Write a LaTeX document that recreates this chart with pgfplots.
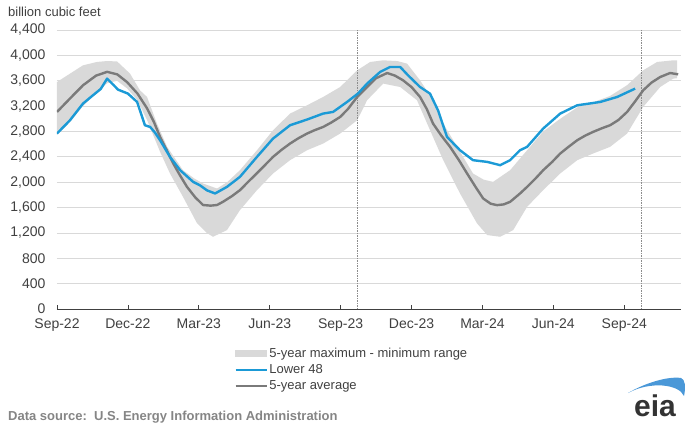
\documentclass[border=0pt]{standalone}
\usepackage{fontspec}
\setmainfont{Liberation Sans}
\usepackage{pgfplots}
\pgfplotsset{compat=1.18}
\definecolor{bandgray}{HTML}{D9D9D9}
\definecolor{eiablue}{HTML}{1B9AD6}
\definecolor{avggray}{HTML}{7A7A7A}
\definecolor{gridgray}{HTML}{D9D9D9}
\definecolor{txt}{HTML}{404040}
\definecolor{srcgray}{HTML}{858585}
\definecolor{logogray}{HTML}{333333}
\definecolor{logoblue}{HTML}{4A98D8}

\begin{document}
\begin{tikzpicture}
\path[use as bounding box] (0pt,0pt) rectangle (696pt,426pt);
\begin{axis}[
  at={(57pt,117pt)}, anchor=south west,
  scale only axis, width=624pt, height=279pt,
  xmin=0, xmax=26.4, ymin=0, ymax=4400,
  axis x line*=bottom, axis y line*=left,
  x axis line style={-, color=black!75, line width=1pt},
  y axis line style={draw=none},
  ytick={0,400,...,4400},
  xtick={0,3,...,24},
  xticklabels={Sep-22,Dec-22,Mar-23,Jun-23,Sep-23,Dec-23,Mar-24,Jun-24,Sep-24},
  ymajorgrids, grid style={gridgray, line width=0.8pt},
  ytick style={draw=none},
  xtick style={color=black!75, line width=0.8pt},
  tick align=inside, major tick length=4pt,
  /pgf/number format/assume math mode=true,
  /pgf/number format/1000 sep={,},
  ticklabel style={font=\fontsize{14}{16}\selectfont, color=txt},
  yticklabel style={xshift=-8pt},
  xticklabel style={yshift=-6pt},
  legend style={draw=none, fill=none, font=\fontsize{13}{15}\selectfont\color{txt},
    at={(0.284,-0.134)}, anchor=north west, inner sep=0pt,
    nodes={inner sep=1.5pt}, row sep=2.5pt},
  legend cell align=left,
]
\addlegendimage{legend image code/.code={\fill[bandgray] (0pt,-3pt) rectangle (31pt,3pt);}}
\addlegendentry{5-year maximum - minimum range}
\addlegendimage{legend image code/.code={\draw[eiablue, line width=2.4pt] (0pt,0pt) -- (31pt,0pt);}}
\addlegendentry{Lower 48}
\addlegendimage{legend image code/.code={\draw[avggray, line width=2.4pt] (0pt,0pt) -- (31pt,0pt);}}
\addlegendentry{5-year average}

% 5-year maximum (forward) and minimum (reversed) as one band
\addplot[fill=bandgray, draw=none, forget plot] coordinates {
(0.00,3580) (0.55,3712) (1.10,3843) (1.69,3896) (2.10,3910) (2.54,3905) (3.09,3712)
(3.51,3449) (3.81,3344) (4.23,2924) (4.66,2557) (5.33,2189) (5.80,2060) (6.18,1979)
(6.77,1900) (7.20,2000) (7.74,2189) (8.46,2504) (9.14,2819) (9.86,3082) (10.58,3213)
(11.26,3344) (11.98,3501) (12.70,3764) (13.25,3896) (13.80,3922) (14.40,3910)
(14.81,3870) (15.36,3607) (15.91,3292) (16.34,2924) (16.93,2557) (17.60,2137)
(18.05,2040) (18.45,2005) (19.17,2189) (19.89,2504) (20.57,2800) (21.29,3000)
(22.01,3180) (22.68,3260) (23.40,3360) (24.12,3530) (24.80,3764) (25.39,3896)
(26.07,3922) (26.24,3922)
(26.24,3640) (26.07,3633) (25.52,3501) (24.80,3187) (24.12,2767) (23.40,2557)
(22.68,2452) (22.01,2347) (21.29,2137) (20.57,1874) (19.89,1612) (19.30,1244)
(18.75,1139) (18.20,1166) (17.77,1350) (17.05,1822) (16.34,2347) (15.66,2924)
(15.23,3292) (14.52,3501) (13.80,3555) (13.12,3292) (12.70,2977) (11.98,2767)
(11.26,2609) (10.58,2504) (9.86,2347) (9.14,2137) (8.46,1874) (7.74,1559)
(7.19,1244) (6.60,1139) (6.35,1197) (5.92,1355) (5.33,1769) (4.78,2137) (4.36,2480)
(3.81,2980) (3.39,3300) (2.96,3480) (2.54,3600) (2.12,3560) (1.69,3420) (1.10,3200)
(0.55,2950) (0.00,2750)
};

% reference lines
\addplot[forget plot, color=black!45, line width=0.9pt, dash pattern=on 1.5pt off 1pt]
 coordinates {(12.70,0) (12.70,4400)};
\addplot[forget plot, color=black!45, line width=0.9pt, dash pattern=on 1.5pt off 1pt]
 coordinates {(24.74,0) (24.74,4400)};

% 5-year average
\addplot[forget plot, avggray, line width=2.4pt, line join=round] coordinates {
(0.00,3108) (0.55,3320) (1.10,3528) (1.65,3680) (2.12,3740) (2.55,3700) (2.96,3580)
(3.40,3400) (3.81,3165) (4.10,2950) (4.36,2714) (4.65,2500) (4.91,2300) (5.20,2110)
(5.50,1926) (5.85,1760) (6.18,1640) (6.50,1630) (6.77,1640) (7.02,1690) (7.40,1780)
(7.74,1874) (8.10,2010) (8.46,2142) (8.80,2270) (9.14,2399) (9.50,2510) (9.86,2609)
(10.20,2690) (10.58,2767) (10.90,2820) (11.26,2871) (11.60,2940) (11.98,3029)
(12.30,3150) (12.70,3344) (13.12,3501) (13.50,3640) (13.97,3722) (14.30,3680)
(14.64,3607) (15.00,3500) (15.36,3344) (15.65,3150) (15.91,2924) (16.25,2740)
(16.63,2557) (17.00,2350) (17.35,2137) (17.70,1930) (18.03,1743) (18.35,1660)
(18.62,1638) (18.90,1650) (19.17,1690) (19.59,1822) (19.89,1926) (20.25,2060)
(20.57,2189) (20.95,2320) (21.29,2452) (21.65,2560) (22.01,2662) (22.35,2735)
(22.68,2793) (23.05,2850) (23.40,2898) (23.75,2980) (24.12,3108) (24.45,3270)
(24.80,3449) (25.15,3570) (25.52,3659) (25.94,3722) (26.28,3701)
};
% Lower 48
\addplot[forget plot, eiablue, line width=2.4pt, line join=round] coordinates {
(0.00,2767) (0.55,2977) (1.10,3240) (1.52,3370) (1.85,3470) (2.12,3633) (2.40,3530)
(2.58,3460) (3.00,3397) (3.39,3265) (3.72,2898) (3.94,2871) (4.15,2780) (4.36,2662)
(4.78,2399) (5.21,2189) (5.76,2005) (6.05,1950) (6.35,1870) (6.69,1822) (7.19,1926)
(7.74,2084) (8.46,2399) (9.14,2688) (9.86,2898) (10.58,2988) (11.26,3082) (11.68,3108)
(12.27,3265) (12.74,3400) (13.12,3555) (13.67,3738) (14.09,3817) (14.52,3817)
(14.85,3686) (15.36,3501) (15.78,3397) (16.12,3134) (16.50,2714) (17.05,2504)
(17.60,2347) (18.20,2320) (18.75,2268) (19.17,2347) (19.59,2504) (19.89,2557)
(20.57,2846) (21.29,3082) (22.01,3213) (22.98,3265) (23.70,3344) (24.46,3476)
};
\end{axis}

\node[anchor=west, inner sep=0pt, text=txt, font=\fontsize{13}{15}\selectfont] at (8pt,414pt) {billion cubic feet};
\node[anchor=west, inner sep=0pt, text=srcgray, font=\fontsize{13}{15}\selectfont\bfseries] at (8pt,9pt) {Data source:\ \ U.S. Energy Information Administration};
% eia logo
\node[inner sep=0pt, text=logogray, font=\fontsize{30}{32}\selectfont\bfseries] at (655pt,20pt) {eia};
\fill[logoblue] (628pt,33pt) .. controls (645pt,43pt) and (668pt,50pt) .. (681pt,48pt)
  .. controls (685pt,47pt) and (686pt,39pt) .. (684pt,30pt)
  .. controls (679pt,42pt) and (650pt,45pt) .. (628pt,33pt) -- cycle;
\end{tikzpicture}
\end{document}
